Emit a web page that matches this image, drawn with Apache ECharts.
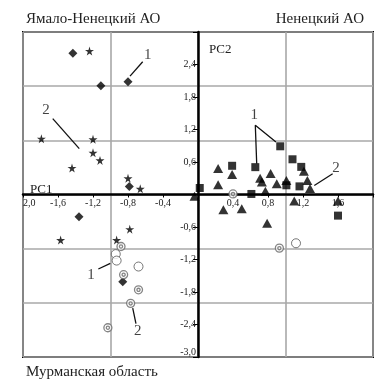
<!DOCTYPE html>
<html>
<head>
<meta charset="utf-8">
<script src="https://cdn.jsdelivr.net/npm/echarts@6/dist/echarts.min.js"></script>
<style>
html, body { margin: 0; padding: 0; background: #fff; }
#chart { width: 391px; height: 380px; }
</style>
</head>
<body>
<div id="chart"></div>
<script>
// Ямало-Ненецкий АО
const diamonds = [[-1.43, 2.61], [-1.11, 2.01], [-0.80, 2.08], [-0.785, 0.15], [-1.36, -0.41], [-0.86, -1.61]];
const stars = [[-1.24, 2.65], [-1.79, 1.03], [-1.20, 1.02], [-1.20, 0.77], [-1.12, 0.63], [-1.44, 0.49],
    [-0.80, 0.30], [-0.66, 0.105], [-1.57, -0.84], [-0.78, -0.64], [-0.93, -0.84]];
// Ненецкий АО
const squares = [[0.02, 0.12], [0.39, 0.53], [0.655, 0.505], [0.94, 0.89], [1.08, 0.65], [1.18, 0.51],
    [1.01, 0.17], [1.16, 0.15], [0.61, 0.01], [1.60, -0.39]];
const triangles = [[0.23, 0.48], [0.39, 0.37], [0.23, 0.18], [0.83, 0.39], [0.71, 0.30], [0.73, 0.23],
    [0.90, 0.20], [1.01, 0.26], [1.21, 0.43], [1.25, 0.26], [1.28, 0.11], [-0.04, -0.03], [0.77, 0.06],
    [0.29, -0.28], [0.50, -0.265], [1.10, -0.12], [1.60, -0.12], [0.79, -0.53]];
// Мурманская область
const openCircles = [[1.12, -0.90], [-0.94, -1.10], [-0.93, -1.22], [-0.68, -1.33]];
const dotCircles = [[0.40, 0.01], [0.93, -0.99], [-0.88, -0.96], [-0.85, -1.48], [-0.68, -1.76],
    [-0.77, -2.01], [-1.03, -2.46]];

// callouts "1" / "2"
const leaderLines = [
    [[-0.777, 2.185], [-0.632, 2.45]],
    [[-1.66, 1.40], [-1.357, 0.846]],
    [[0.891, 0.969], [0.655, 1.28], [0.671, 0.569]],
    [[1.539, 0.383], [1.329, 0.167]],
    [[-1.139, -1.376], [-1.002, -1.272]],
    [[-0.746, -2.098], [-0.709, -2.383]]
];
const leaderLabels = [['1', -0.575, 2.57], ['2', -1.737, 1.556], ['1', 0.643, 1.46],
    ['2', 1.577, 0.487], ['1', -1.223, -1.48], ['2', -0.689, -2.52]];

const FONT = 'Liberation Serif';
const starPath = 'path://M50,0 L61,35 L98,35 L68,57 L79,91 L50,70 L21,91 L32,57 L2,35 L39,35 Z';
const ringPath = 'path://M10,0 A10,10 0 1,1 9.99,0 Z M10,6 A4,4 0 1,1 9.99,6 Z';

// plot box: 350 x 325 px, axes cross in the middle
const GRID = {left: 23, top: 32, right: 18, bottom: 23};
const plotW = 391 - GRID.left - GRID.right;
const plotH = 380 - GRID.top - GRID.bottom;

function fmt(v) {
    return v.toFixed(1).replace('.', ',');
}

let series = [
    {type: 'scatter', data: diamonds, symbol: 'diamond', symbolSize: [9, 9], itemStyle: {color: '#000'}},
    {type: 'scatter', data: stars, symbol: starPath, symbolSize: 9, itemStyle: {color: '#000'}},
    {type: 'scatter', data: squares, symbol: 'rect', symbolSize: 8, itemStyle: {color: '#000'}},
    {type: 'scatter', data: triangles, symbol: 'triangle', symbolSize: [10, 9], itemStyle: {color: '#000'}},
    {type: 'scatter', data: openCircles, symbol: 'circle', symbolSize: 9,
        itemStyle: {color: '#fff', borderColor: '#555', borderWidth: 1}},
    {type: 'scatter', data: dotCircles, symbol: ringPath, symbolSize: 8,
        itemStyle: {color: '#fff', borderColor: '#666', borderWidth: 1.3}}
];
leaderLines.forEach(function (seg) {
    series.push({
        type: 'line', data: seg, symbol: 'none', silent: true, z: 3,
        lineStyle: {color: '#111', width: 1.3}
    });
});
series.push({
    type: 'scatter', symbolSize: 0, silent: true, z: 4,
    data: leaderLabels.map(function (d) { return {value: [d[1], d[2]], name: d[0]}; }),
    label: {show: true, position: 'inside', formatter: '{b}', color: '#111', fontFamily: FONT, fontSize: 15}
});

let titleStyle = {fontFamily: FONT, fontSize: 15, fontWeight: 'normal', color: '#222'};

let option = {
    animation: false,
    backgroundColor: '#fff',
    title: [
        {text: 'Ямало-Ненецкий АО', left: 21, top: 7, textStyle: titleStyle},
        {text: 'Ненецкий АО', right: 22, top: 7, textStyle: titleStyle},
        {text: 'Мурманская область', left: 21, top: 360, textStyle: titleStyle},
        {text: 'PC2', left: 204, top: 38, textStyle: {fontFamily: FONT, fontSize: 13, fontWeight: 'normal', color: '#222'}},
        {text: 'PC1', left: 25, top: 178, textStyle: {fontFamily: FONT, fontSize: 13, fontWeight: 'normal', color: '#222'}}
    ],
    grid: Object.assign({show: true, borderColor: '#000', borderWidth: 2, backgroundColor: 'transparent'}, GRID),
    xAxis: [
        {
            type: 'value', min: -2, max: 2, interval: 0.4, z: 1,
            position: 'bottom', offset: -plotH / 2,
            axisLine: {onZero: false, lineStyle: {color: '#000', width: 2.5}},
            axisTick: {show: true, length: 3, lineStyle: {color: '#000'}},
            splitLine: {show: false},
            axisLabel: {
                margin: 4, fontFamily: FONT, fontSize: 10, color: '#222',
                alignMinLabel: 'left',
                formatter: function (v) {
                    if (Math.abs(v) < 1e-6 || v > 1.99) return '';
                    if (v < -1.99) return '2,0';
                    return fmt(v);
                }
            }
        },
        {
            type: 'value', min: -2, max: 2, interval: 1, z: 0,
            axisLine: {show: false}, axisTick: {show: false}, axisLabel: {show: false},
            splitLine: {show: true, lineStyle: {color: '#a8a8a8', width: 1.6}}
        }
    ],
    yAxis: [
        {
            type: 'value', min: -3, max: 3, interval: 0.6, z: 1,
            position: 'left', offset: -plotW / 2,
            axisLine: {onZero: false, lineStyle: {color: '#000', width: 2.5}},
            axisTick: {show: true, length: 5, lineStyle: {color: '#000'}},
            splitLine: {show: false},
            axisLabel: {
                margin: 2, fontFamily: FONT, fontSize: 10, color: '#222',
                verticalAlignMinLabel: 'bottom',
                formatter: function (v) {
                    if (Math.abs(v) < 1e-6 || v > 2.99) return '';
                    return fmt(v);
                }
            }
        },
        {
            type: 'value', min: -3, max: 3, interval: 1, z: 0,
            axisLine: {show: false}, axisTick: {show: false}, axisLabel: {show: false},
            splitLine: {show: true, lineStyle: {color: '#a8a8a8', width: 1.6}}
        }
    ],
    series: series
};

let myChart = echarts.init(document.getElementById('chart'));
myChart.setOption(option);
</script>
</body>
</html>
